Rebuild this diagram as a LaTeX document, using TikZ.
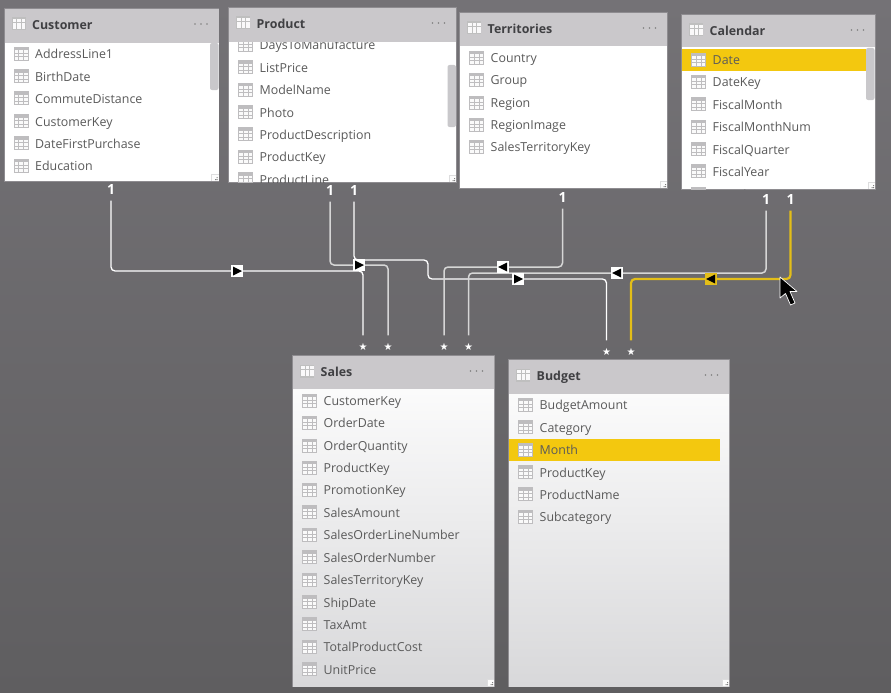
\documentclass[tikz,border=0pt]{standalone}
\usepackage{fontspec}
\setmainfont{Open Sans}
\usetikzlibrary{calc}
\definecolor{hdr}{HTML}{CAC8CB}
\definecolor{gold}{HTML}{F3C80F}
\definecolor{goldline}{HTML}{E3BE18}
\definecolor{txt}{HTML}{5A5A5A}
\definecolor{ttl}{HTML}{404043}
\definecolor{edge}{HTML}{8E8C90}
\definecolor{scrollc}{HTML}{C9C8CB}
\definecolor{icong}{HTML}{BEBDBF}
\definecolor{lineg}{HTML}{D6D6D6}
\definecolor{bodymid}{HTML}{F5F5F6}
\definecolor{bodylow}{HTML}{D8D8DA}
\definecolor{bgtop}{HTML}{747276}
\definecolor{bgmid}{HTML}{727074}
\definecolor{bglow}{HTML}{5F5E60}
\newfontfamily\symfont{DejaVu Sans}
\tikzset{
  x=1pt,y=-1pt,
  rowtext/.style={anchor=base west,inner sep=0pt,text=txt,font=\fontsize{12.4}{14}\selectfont},
  titletext/.style={anchor=base west,inner sep=0pt,text=ttl,font=\fontsize{12.4}{15}\selectfont\bfseries},
  onelabel/.style={inner sep=0pt,minimum width=10pt,minimum height=14pt,text=white,font=\fontsize{14}{14}\selectfont\bfseries},
  manylabel/.style={inner sep=0pt,minimum size=8pt,text=white,font=\symfont\fontsize{10}{10}\selectfont},
  relwhite/.style={draw=white,line width=1.3pt,rounded corners=4pt,shorten <=4pt,shorten >=7pt},
  relgray/.style={draw=lineg,line width=1.5pt,rounded corners=4pt,shorten <=4pt,shorten >=7pt},
  relgold/.style={draw=goldline,line width=2.2pt,rounded corners=4pt,shorten <=4pt,shorten >=7pt},
  markbox/.style={inner sep=0pt,minimum size=12pt,fill=white},
  mright/.style={markbox,path picture={\fill[black] ($(path picture bounding box.center)+(-4,-4.5)$) -- ++(9,4.5) -- ++(-9,4.5) -- cycle;}},
  mleft/.style={markbox,path picture={\fill[black] ($(path picture bounding box.center)+(4,-4.5)$) -- ++(-9,4.5) -- ++(9,4.5) -- cycle;}},
  mgold/.style={mleft,fill=goldline},
  fadedbody/.style={top color=white,middle color=bodymid,bottom color=bodylow},
  plainbody/.style={fill=white},
  rowicon/.pic={
    \fill[icong] (-7.5,-7) rectangle (7.5,7);
    \foreach \cx/\cw in {-6.2/3.6,-1.6/3.6,3/3.5}{\foreach \cy/\ch in {-3.6/2.7,0.1/2.5,3.6/2.4}{
      \fill[white!92!icong] (\cx,\cy) rectangle ++(\cw,\ch);}}
  },
  headicon/.pic={
    \fill[white!50!gray] (-7,-6.5) rectangle (7,6.5);
    \foreach \cx in {-6,-1.5,3}{\foreach \cy in {-5.2,-1.4,2.4}{
      \fill[white!90!hdr] (\cx,\cy) rectangle ++(3.6,3);}}
  },
}
\newcommand{\tablebody}[5]{%
  \fill[edge] (#1-0.7,#2-0.7) rectangle (#3+0.7,#4+0.7);
  \path[#5] (#1,#2) rectangle (#3,#4);
}
% rows: name,x0,yh,x1,y1,rows
\newcommand{\tablerows}[6]{%
  \begin{scope}
    \clip (#2,#3) rectangle (#4,#5);
    \foreach \lab/\yy [count=\i] in {#6}{
      \pic at (#2+16.5,\yy+0.3) {rowicon};
      \node[rowtext] (#1-r\i) at (#2+30.5,\yy+5.1) {\lab};
    }
  \end{scope}
}
% head: name,x0,y0,x1,yh,title,ytitle,y1
\newcommand{\tablehead}[8]{%
  \fill[hdr] (#2,#3) rectangle (#4,#5);
  \pic at (#2+14,#7) {headicon};
  \node[titletext] (#1-t) at (#2+27.5,#7+5.3) {#6};
  \foreach \k in {-6,0,6}{\fill[gray] (#4-17.5+\k,#7) circle (0.9);}
  \fill[white!94!hdr] (#4-7,#8-7) rectangle (#4,#8);
  \draw[white!70!edge,line width=0.4pt] (#4-7,#8) -- (#4-7,#8-7) -- (#4,#8-7);
  \fill[gray] (#4-2,#8-4) rectangle ++(1,1) (#4-3.5,#8-2) rectangle ++(1,1) (#4-2,#8-2) rectangle ++(1,1);
}
\begin{document}
\begin{tikzpicture}
\useasboundingbox (0,0) rectangle (891,693);
\shade[top color=bgtop,middle color=bgmid,bottom color=bglow] (0,0) rectangle (891,693);

% Customer
\tablebody{4.5}{9}{218.5}{181}{plainbody}
\tablerows{cust}{4.5}{43}{218.5}{181}{AddressLine1/53.5,BirthDate/76,CommuteDistance/98,CustomerKey/121,DateFirstPurchase/143,Education/165.5}
\fill[scrollc,rounded corners=2pt] (210,43) rectangle (218.5,90);
\tablehead{cust}{4.5}{9}{218.5}{43}{Customer}{24}{181}

% Product
\tablebody{229}{8}{456}{182}{plainbody}
\tablerows{prod}{229}{42}{456}{182}{DaysToManufacture/44.5,ListPrice/67,ModelName/89.5,Photo/112,ProductDescription/134,ProductKey/156.5,ProductLine/179}
\fill[scrollc,rounded corners=2pt] (447.5,65) rectangle (456,127);
\tablehead{prod}{229}{8}{456}{42}{Product}{23}{182}

% Territories
\tablebody{460}{13}{667}{188}{plainbody}
\tablerows{terr}{460}{46}{667}{188}{Country/57.5,Group/79.5,Region/102.5,RegionImage/124.5,SalesTerritoryKey/146.5}
\tablehead{terr}{460}{13}{667}{46}{Territories}{28}{188}

% Calendar
\tablebody{682}{15}{875}{189}{plainbody}
\fill[gold] (682,49) rectangle (866,70.5);
\tablerows{cal}{682}{47}{875}{189}{Date/59.5,DateKey/81.5,FiscalMonth/104,FiscalMonthNum/126.5,FiscalQuarter/149,FiscalYear/171,Month/194}
\fill[scrollc,rounded corners=2pt] (866,48) rectangle (874.5,100);
\tablehead{cal}{682}{15}{875}{47}{Calendar}{30}{189}

% Sales
\tablebody{293}{356}{494}{686}{fadedbody}
\tablerows{sales}{293}{389}{494}{686}{CustomerKey/400.5,OrderDate/422.5,OrderQuantity/445.5,ProductKey/467.5,PromotionKey/489.5,SalesAmount/512,SalesOrderLineNumber/534.5,SalesOrderNumber/557,SalesTerritoryKey/579.5,ShipDate/602,TaxAmt/624,TotalProductCost/646.5,UnitPrice/669}
\tablehead{sales}{293}{356}{494}{389}{Sales}{371}{686}

% Budget
\tablebody{509}{360}{729}{686}{fadedbody}
\fill[gold] (509,438.5) rectangle (720,461);
\tablerows{budg}{509}{394}{729}{686}{BudgetAmount/404.5,Category/427,Month/449.5,ProductKey/472,ProductName/494,Subcategory/516.5}
\tablehead{budg}{509}{360}{729}{394}{Budget}{375}{686}

% cardinality labels
\node[onelabel] (o1) at (111,189.5) {1};
\node[onelabel] (o2) at (330,190.5) {1};
\node[onelabel] (o3) at (354,190.5) {1};
\node[onelabel] (o4) at (562.5,197.5) {1};
\node[onelabel] (o5) at (766,199.5) {1};
\node[onelabel] (o6) at (790.5,199.5) {1};
\node[manylabel] (s1) at (363,346.5) {★};
\node[manylabel] (s2) at (388,346.5) {★};
\node[manylabel] (s3) at (444,346.5) {★};
\node[manylabel] (s4) at (468.5,346.5) {★};
\node[manylabel] (s5) at (606.5,351.5) {★};
\node[manylabel] (s6) at (631,351.5) {★};

% waypoints for the connectors
\coordinate (m1) at (237,271);
\coordinate (m2) at (359,265);
\coordinate (m3) at (518,279);
\coordinate (m4) at (503,267);
\coordinate (m5) at (617,273);
\coordinate (m6) at (711,279);
\coordinate (k1) at (428,260);

% connectors
\draw[relwhite] (o1.south) |- (m1) -| (s1.north);
\draw[relgray] (o2.south) |- (m2) -| (s2.north);
\draw[relwhite] (o3.south) |- (k1) |- (m3) -| (s5.north);
\draw[relgray] (o4.south) |- (m4) -| (s3.north);
\draw[relgray] (o5.south) |- (m5) -| (s4.north);
\draw[relgold] (o6.south) |- (m6) -| (s6.north);

% direction markers
\node[mright] (a1) at (m1) {};
\node[mright] (a2) at (m2) {};
\node[mright] (a3) at (m3) {};
\node[mleft] (a4) at (m4) {};
\node[mleft] (a5) at (m5) {};
\node[mgold] (a6) at (m6) {};

% mouse pointer
\fill[black,draw=white,line width=0.7pt,line join=round] (780,277) -- (780,298) -- (785.5,293.5) -- (790.5,305) -- (795,303) -- (790,291.5) -- (797,291.5) -- cycle;
\end{tikzpicture}
\end{document}
